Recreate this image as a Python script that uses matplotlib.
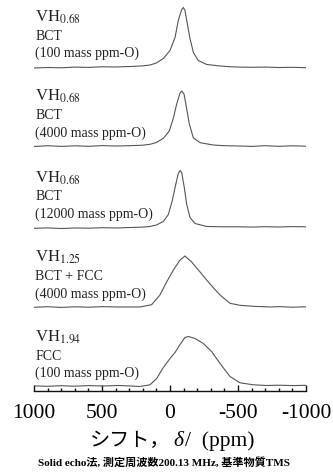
import matplotlib
matplotlib.use("Agg")
import matplotlib.pyplot as plt

plt.rcParams['axes.unicode_minus'] = False
plt.rcParams['mathtext.fontset'] = 'stix'

# ---- data: chemical shift (ppm) and relative intensity ----
ppm1 = [1000, 900, 800, 700, 600, 500, 400, 294, 200, 147, 100, 49, 0, -37, -61, -86, -98, -110, -127, -147, -172, -208, -270, -368, -450, -515, -600, -700, -800, -900, -1000]
int1 = [-1.5, -1.0, -1.3, -0.6, -0.9, -0.3, -0.5, 0.0, 0.6, 1.5, 3.5, 8, 16, 29, 46, 57, 59, 56, 43, 28, 14, 6, 2, 0.5, -0.3, -0.6, -0.8, -0.6, -1.0, -0.8, -1.2]

ppm2 = [1000, 900, 800, 700, 600, 500, 400, 294, 200, 147, 100, 49, 5, -25, -49, -74, -86, -103, -123, -142, -172, -221, -318, -400, -515, -600, -700, -800, -900, -1000]
int2 = [-0.5, 0.3, -0.4, 0.2, -0.3, 0.4, 0.0, 0.3, 0.8, 1.7, 3.5, 7.7, 15, 28, 42, 53, 55, 52, 37, 22, 8, 3.3, 1.0, 0.3, 0.0, -0.4, 0.3, -0.3, 0.2, -0.2]

ppm3 = [1000, 900, 800, 700, 600, 500, 400, 294, 200, 147, 100, 49, 12, -17, -42, -61, -74, -86, -105, -123, -147, -184, -270, -400, -515, -600, -700, -800, -900, -1000]
int3 = [-0.8, -0.4, -1.0, -0.5, -0.7, -0.2, -0.5, 0.0, 0.4, 1.0, 2.5, 6, 13, 27, 43, 54, 57, 55, 40, 23, 10, 4, 1.0, 0.7, 0.7, 0.4, 0.8, 0.5, 0.9, 0.7]

ppm4 = [1000, 900, 800, 700, 600, 500, 368, 221, 135, 74, 25, -25, -74, -110, -159, -221, -294, -368, -441, -515, -613, -735, -800, -900, -1000]
int4 = [-0.3, 0.3, -0.4, 0.2, -0.2, 0.3, 0.0, 0.0, 2.3, 12, 25, 37, 47, 51, 45, 35, 23, 12, 3.7, 1.7, 0.7, 0.0, 0.4, -0.2, 0.2]

ppm5 = [1000, 900, 800, 700, 600, 500, 368, 221, 147, 98, 49, 0, -37, -74, -110, -135, -184, -245, -306, -368, -441, -515, -613, -711, -800, -900, -1000]
int5 = [0.6, 0.2, 0.8, 0.3, 0.9, 0.5, 1.0, 0.0, 1.7, 8, 19, 28, 34, 42, 49, 50, 48, 43, 35, 23, 10, 3.7, 1.7, 1.0, 1.3, 0.9, 1.2]

compounds = ['0.68', '0.68', '0.68', '1.25', '1.94']
phases = ['BCT', 'BCT', 'BCT', 'BCT + FCC', 'FCC']
oxygen = ['(100 mass ppm-O)', '(4000 mass ppm-O)', '(12000 mass ppm-O)',
          '(4000 mass ppm-O)', '(100 mass ppm-O)']
tick_vals = [1000, 500, 0, -500, -1000]
tick_labels = ['1000', '500', '0', '-500', '-1000']

series = [(ppm1, int1), (ppm2, int2), (ppm3, int3), (ppm4, int4), (ppm5, int5)]

# ---- layout ----
W, H = 333, 472
fig = plt.figure(figsize=(W / 100, H / 100), dpi=100)
ax = fig.add_axes([34 / W, 81 / H, (306 - 34) / W, (H - 81) / H])
ax.set_xlim(1000, -1000)
ax.set_ylim(0, 391)

offsets = [324.5, 245, 163.5, 84, 4.5]
line_color = '#555555'
txt_color = '#222222'
serif = ['Liberation Serif', 'Noto Sans CJK JP']

for (p, v), off, comp, ph, ox in zip(series, offsets, compounds, phases, oxygen):
    ax.plot(p, [off + iv for iv in v], color=line_color, lw=0.8)
    ax.text(992, off + 45, 'VH$_{' + comp + '}$', family='Liberation Serif',
            fontsize=12, va='baseline', ha='left', color=txt_color)
    ax.text(992, off + 27, ph, family='Liberation Serif', fontsize=10,
            va='baseline', ha='left', color=txt_color)
    ax.text(992, off + 9.5, ox, family='Liberation Serif', fontsize=10,
            va='baseline', ha='left', color=txt_color)

for s in ['top', 'left', 'right']:
    ax.spines[s].set_visible(False)
ax.spines['bottom'].set_linewidth(1.0)
ax.spines['bottom'].set_color('#111111')
ax.set_yticks([])
ax.set_xticks(tick_vals)
ax.set_xticklabels(tick_labels, family='Liberation Serif', fontsize=15.5)
ax.set_xticks(list(range(-1000, 1001, 100)), minor=True)
ax.tick_params(axis='x', which='major', direction='in', length=4.5, width=1.0,
               pad=9, color='#111111')
ax.tick_params(axis='x', which='minor', direction='in', length=2.2, width=1.0,
               color='#111111')

# x label composed of pieces (Japanese + italic delta + unit)
t1 = fig.text(90 / W, 1 - 446 / H, 'シフト，', family=serif, fontsize=14.5,
              va='baseline', ha='left')
t2 = ax.annotate('δ', xy=(1, 0), xycoords=t1, xytext=(2, 0),
                 textcoords='offset points', family='Liberation Serif',
                 style='italic', fontsize=15.5, va='bottom', ha='left')
t3 = ax.annotate('/  (ppm)', xy=(1, 0), xycoords=t2, xytext=(1, 0),
                 textcoords='offset points', family='Liberation Serif',
                 fontsize=15.5, va='bottom', ha='left')

fig.text(0.492, 1 - 462 / H, 'Solid echo法, 測定周波数200.13 MHz, 基準物質TMS',
         family=serif, fontsize=8, weight='bold', ha='center', va='center')

fig.savefig('out.png', dpi=100)
